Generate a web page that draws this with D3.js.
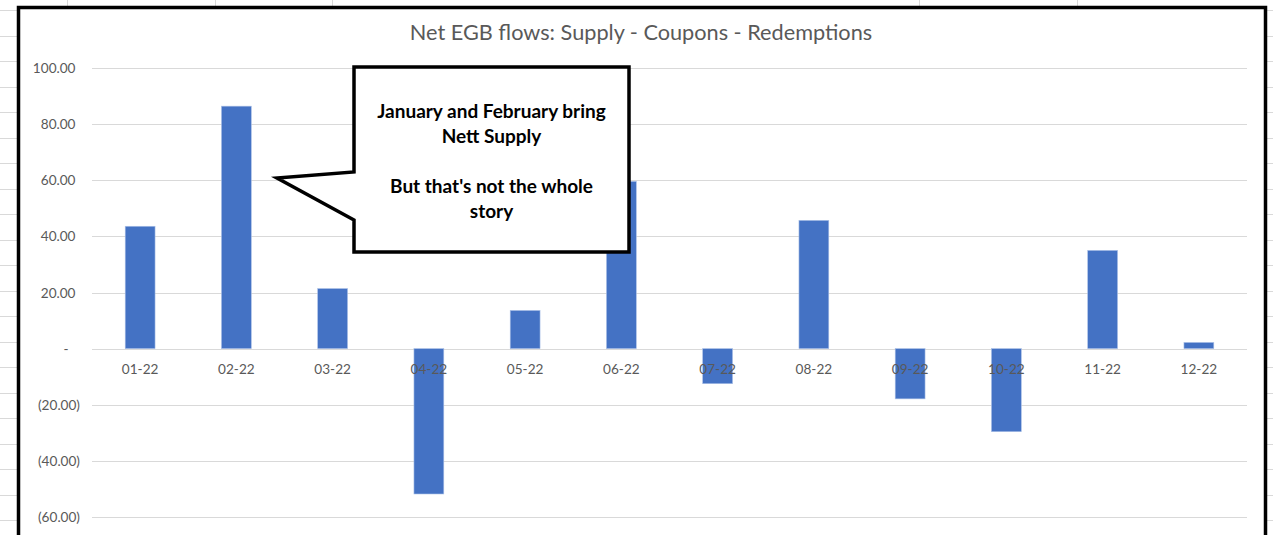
<!DOCTYPE html>
<html lang="en">
<head>
<meta charset="utf-8">
<title>Net EGB flows</title>
<style>
  body { margin: 0; background: #fff; }
  svg text { font-family: Lato, "Open Sans", sans-serif; }
</style>
</head>
<body>
<div id="chart"></div>
<script src="https://d3js.org/d3.v7.min.js"></script>
<script>
// data
var months = ["01-22", "02-22", "03-22", "04-22", "05-22", "06-22",
              "07-22", "08-22", "09-22", "10-22", "11-22", "12-22"];
var netFlows = [43.6, 86.4, 21.4, -51.8, 13.6, 59.6, -12.5, 45.7, -17.9, -29.6, 35.0, 2.2];
var yTicks = [100, 80, 60, 40, 20, 0, -20, -40, -60];
var titleText = "Net EGB flows: Supply - Coupons - Redemptions";
var calloutLines = ["January and February bring", "Nett Supply", "", "But that's not the whole", "story"];

var W = 1273, H = 535;
var margin = { left: 92, right: 26, top: 68, bottom: 18 };

var svg = d3.select("#chart").append("svg")
    .attr("width", W)
    .attr("height", H);

// spreadsheet cells peeking out around the chart
var sheet = svg.append("g").attr("stroke", "#d9d9d9").attr("stroke-width", 1);
[67, 215, 332, 919, 1077].forEach(function (x) {
    sheet.append("line").attr("x1", x + 0.5).attr("x2", x + 0.5).attr("y1", 0).attr("y2", 8);
});
for (var ry = 10; ry < H; ry += 25.5) {
    var yy = Math.round(ry) + 0.5;
    sheet.append("line").attr("x1", 0).attr("x2", 18).attr("y1", yy).attr("y2", yy);
    sheet.append("line").attr("x1", 1266).attr("x2", W).attr("y1", yy).attr("y2", yy);
}

// chart frame
svg.append("rect")
    .attr("x", 18.5).attr("y", 7.5)
    .attr("width", 1247).attr("height", 540)
    .attr("fill", "#fff")
    .attr("stroke", "#000")
    .attr("stroke-width", 3.5);

var x = d3.scaleBand()
    .domain(months)
    .range([margin.left, W - margin.right])
    .paddingInner(0.69)
    .paddingOuter(0.345);

var y = d3.scaleLinear()
    .domain([-60, 100])
    .range([517, margin.top]);

// gridlines
svg.append("g")
    .selectAll("line")
    .data(yTicks)
    .enter().append("line")
    .attr("x1", margin.left)
    .attr("x2", W - margin.right)
    .attr("y1", function (d) { return Math.round(y(d)) + 0.5; })
    .attr("y2", function (d) { return Math.round(y(d)) + 0.5; })
    .attr("stroke", "#d9d9d9")
    .attr("stroke-width", 1);

// y axis labels, accounting style
var fmt = d3.format(",.2f");
svg.append("g")
    .selectAll("text")
    .data(yTicks)
    .enter().append("text")
    .attr("x", function (d) { return d === 0 ? 66 : (d < 0 ? 80 : 75.5); })
    .attr("y", function (d) { return y(d) + 5; })
    .attr("text-anchor", function (d) { return d === 0 ? "middle" : "end"; })
    .attr("font-size", "13.6px")
    .attr("fill", "#595959")
    .text(function (d) {
        if (d === 0) return "-";
        return d < 0 ? "(" + fmt(-d) + ")" : fmt(d);
    });

// bars
svg.append("g")
    .selectAll("rect")
    .data(netFlows)
    .enter().append("rect")
    .attr("x", function (d, i) { return x(months[i]); })
    .attr("width", x.bandwidth())
    .attr("y", function (d) { return y(Math.max(0, d)); })
    .attr("height", function (d) { return Math.abs(y(d) - y(0)); })
    .attr("fill", "#4472c4")
    .attr("stroke", "#a9bfe6")
    .attr("stroke-width", 0.6);

// category labels sit at the zero line, on top of the bars
svg.append("g")
    .selectAll("text")
    .data(months)
    .enter().append("text")
    .attr("x", function (d) { return x(d) + x.bandwidth() / 2; })
    .attr("y", y(0) + 25.5)
    .attr("text-anchor", "middle")
    .attr("font-size", "13.6px")
    .attr("fill", "#595959")
    .text(function (d) { return d; });

// title
svg.append("text")
    .attr("x", 641)
    .attr("y", 40)
    .attr("text-anchor", "middle")
    .attr("font-size", "21.7px")
    .attr("fill", "#595959")
    .text(titleText);

// callout box with pointer towards February
var bx0 = 354, bx1 = 629, by0 = 67, by1 = 252;
var callout = d3.path();
callout.moveTo(bx0, by0);
callout.lineTo(bx1, by0);
callout.lineTo(bx1, by1);
callout.lineTo(bx0, by1);
callout.lineTo(bx0, 220);
callout.lineTo(277, 178);
callout.lineTo(bx0, 172);
callout.closePath();

svg.append("path")
    .attr("d", callout.toString())
    .attr("fill", "#fff")
    .attr("stroke", "#000")
    .attr("stroke-width", 3.5)
    .attr("stroke-linejoin", "miter");

svg.append("g")
    .selectAll("text")
    .data(calloutLines)
    .enter().append("text")
    .attr("x", (bx0 + bx1) / 2)
    .attr("y", function (d, i) { return 118 + i * 25; })
    .attr("text-anchor", "middle")
    .attr("font-size", "19px")
    .attr("font-weight", "bold")
    .attr("fill", "#000")
    .text(function (d) { return d; });
</script>
</body>
</html>
